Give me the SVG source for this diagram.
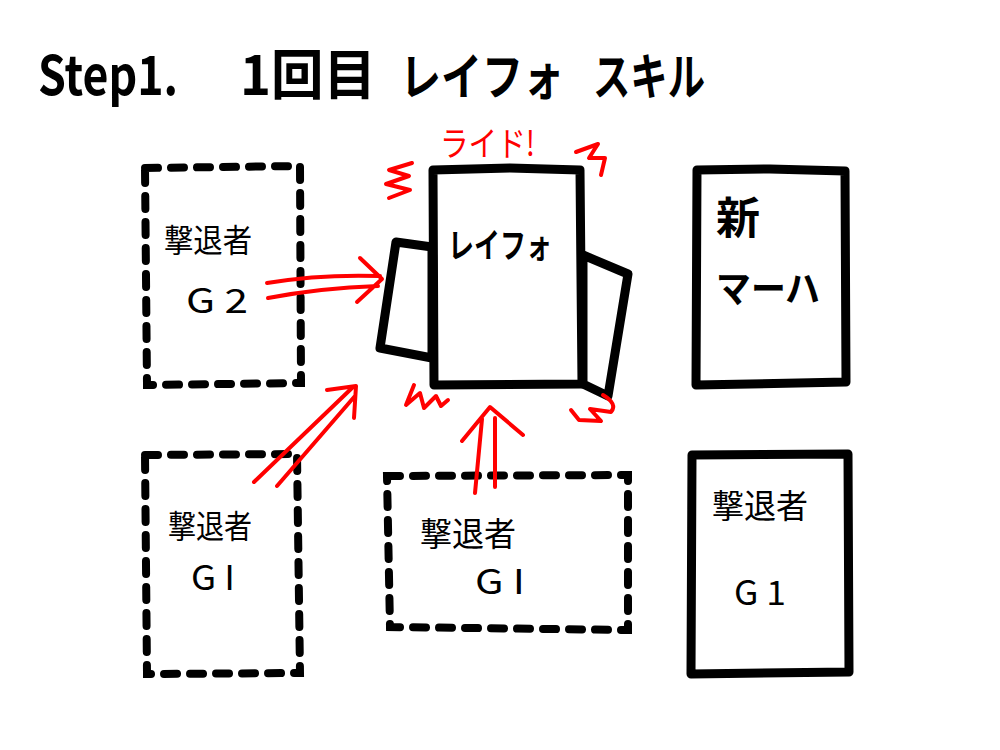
<svg xmlns="http://www.w3.org/2000/svg" width="1000" height="750" viewBox="0 0 1000 750">
<style>
.t{font-family:"Noto Sans CJK JP","Noto Sans",sans-serif;fill:#000}
.dash{fill:none;stroke:#000;stroke-width:8;stroke-linecap:round;stroke-dasharray:13 13}
.solid{fill:#fff;stroke:#000;stroke-width:9;stroke-linejoin:round}
.red{fill:none;stroke:#f00;stroke-width:4;stroke-linecap:round;stroke-linejoin:round}
</style>
<rect width="1000" height="750" fill="#fff"/>
<g id="title">
<text class="t" x="38" y="95" font-size="54" font-weight="bold" textLength="140" lengthAdjust="spacingAndGlyphs">Step1.</text>
<text class="t" x="240" y="95" font-size="54" font-weight="bold" textLength="136" lengthAdjust="spacingAndGlyphs">1回目</text>
<text class="t" x="400" y="95" font-size="50" font-weight="bold" textLength="164" lengthAdjust="spacingAndGlyphs">レイフォ</text>
<text class="t" x="593" y="95" font-size="50" font-weight="bold" textLength="112" lengthAdjust="spacingAndGlyphs">スキル</text>
</g>
<g id="box-g2">
<path class="dash" d="M145,168 L300,166 L301,383 L147,385 Z"/>
<text class="t" x="164" y="252" font-size="32" textLength="88" lengthAdjust="spacingAndGlyphs">撃退者</text>
<text class="t" x="186" y="313" font-size="34" textLength="62" lengthAdjust="spacingAndGlyphs">G 2</text>
</g>
<g id="box-g1-left">
<path class="dash" d="M145,455 L297,454 L300,673 L147,674 Z"/>
<text class="t" x="168" y="538" font-size="32" textLength="84" lengthAdjust="spacingAndGlyphs">撃退者</text>
<text class="t" x="191" y="590" font-size="34" textLength="44" lengthAdjust="spacingAndGlyphs">G I</text>
</g>
<g id="box-g1-mid">
<path class="dash" d="M387,476 L628,475 L628,630 L390,627 Z"/>
<text class="t" x="420" y="546" font-size="33" textLength="96" lengthAdjust="spacingAndGlyphs">撃退者</text>
<text class="t" x="475" y="594" font-size="34" textLength="50" lengthAdjust="spacingAndGlyphs">G I</text>
</g>
<g id="card-reifo">
<path class="solid" d="M432,247 L396,242 L380,348 L432,358 Z"/>
<path class="solid" d="M583,255 L628,274 L608,396 L583,384 Z"/>
<path class="solid" d="M433,170 L510,168 L580,170 L582,384 L434,385 Z"/>
<text class="t" x="448" y="258" font-size="34" font-weight="bold" textLength="104" lengthAdjust="spacingAndGlyphs">レイフォ</text>
</g>
<g id="ride">
<text x="440" y="156" font-family="Noto Sans CJK JP, sans-serif" font-size="34" fill="#f00" textLength="95" lengthAdjust="spacingAndGlyphs">ライド!</text>
<path class="red" d="M412,163 L389,170 L409,176 L386,184 L410,190 L389,198"/>
<path class="red" d="M576,152 L598,144 L589,158 L605,158 L601,175"/>
<path class="red" d="M414,385 L406,405 L420,393 L424,408 L436,396 L441,406 L448,400"/>
<path class="red" d="M603,395 Q618,404 611,412 L590,409 L601,421 L579,420 L571,410"/>
</g>
<g id="box-mahha">
<path class="solid" d="M697,170 L770,169 L845,171 L846,382 L696,385 Z"/>
<text class="t" x="716" y="234" font-size="44" font-weight="bold">新</text>
<text class="t" x="716" y="302" font-size="38" font-weight="bold" textLength="104" lengthAdjust="spacingAndGlyphs">マーハ</text>
</g>
<g id="box-g1-right">
<path class="solid" d="M692,455 L848,454 L849,672 L691,674 Z"/>
<text class="t" x="712" y="518" font-size="33" textLength="96" lengthAdjust="spacingAndGlyphs">撃退者</text>
<text class="t" x="734" y="605" font-size="34" textLength="52" lengthAdjust="spacingAndGlyphs">G 1</text>
</g>
<g id="connectors">
<path class="red" d="M267,283 Q320,274 380,276 M268,298 Q320,288 378,286 M360,258 L382,279 L357,302"/>
<path class="red" d="M254,482 L352,388 M277,486 L355,396 M327,390 L356,386 L354,418"/>
<path class="red" d="M475,493 L482,419 M495,487 L495,418 M462,441 L490,407 L523,435"/>
</g>
</svg>
